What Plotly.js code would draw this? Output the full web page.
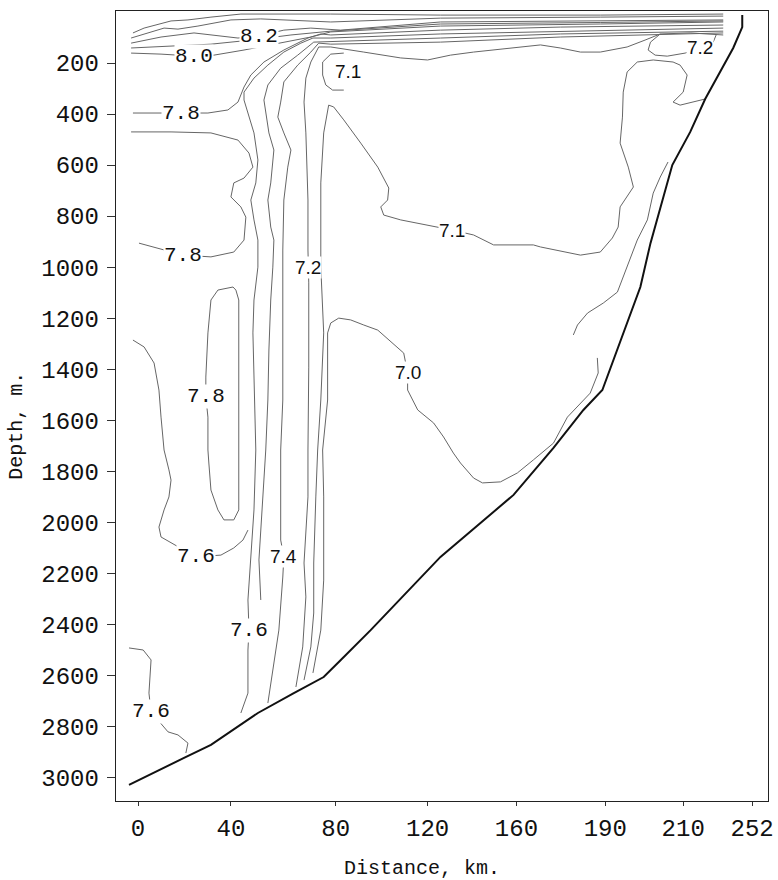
<!DOCTYPE html>
<html>
<head>
<meta charset="utf-8">
<script src="https://cdn.plot.ly/plotly-3.0.1.min.js"></script>
<style>
  html, body { margin: 0; padding: 0; background: #ffffff; }
  #chart { width: 778px; height: 880px; }
</style>
</head>
<body>
<div id="chart"></div>
<script>
// ---- Section data: distance along the section (km) and depth (m) ----
const distanceTicks = [0, 40, 80, 120, 160, 190, 210, 252];
const depthTicks = [200, 400, 600, 800, 1000, 1200, 1400, 1600, 1800, 2000, 2200, 2400, 2600, 2800, 3000];

// Seabed profile
const seabedKm    = [-3.9, 6.9, 19.8, 31.4, 50.3, 64.0, 75.4, 82.2, 95.2, 125.8, 158.7, 172.5, 182.6, 189.0, 194.6, 199.0, 201.6, 207.2, 214.3, 223.4, 240.5, 246.0, 246.0];
const seabedDepth = [3030, 2983, 2924, 2873, 2748, 2670, 2607, 2540, 2423, 2136, 1893, 1709, 1560, 1482, 1258, 1078, 906, 600, 470, 341, 141, 59, 12];

// Isolines near the surface
const iso86Km    = [-2.2, 2.6, 14.2, 21.5, 31.4, 43.8, 78.1, 125.8, 188.3, 234.4];
const iso86Depth = [82, 63, 35, 31, 20, 8, 8, 12, 12, 8];
const iso84Km    = [-3.0, 5.6, 11.2, 17.2, 25.8, 40.0, 51.4, 78.1, 125.8, 188.3, 234.4];
const iso84Depth = [102, 78, 63, 67, 55, 31, 27, 39, 24, 20, 16];
const iso82Km    = [-3.0, 9.9, 24.1, 42.7, 50.7, 60.2, 70.5, 76.9, 82.2, 125.8, 188.3, 234.4];
const iso82Depth = [122, 98, 82, 102, 94, 71, 63, 67, 71, 39, 35, 31];
const iso81Km    = [-3.0, 14.2, 31.4, 47.6, 62.9, 78.1, 125.8, 188.3, 234.4];
const iso81Depth = [141, 133, 126, 110, 90, 75, 47, 41, 35];
const iso80Km    = [-3.0, 9.9, 24.1, 32.7, 45.0, 57.9, 70.5, 78.1, 125.8, 188.3, 234.4];
const iso80Depth = [161, 165, 173, 169, 149, 122, 98, 78, 55, 47, 39];

// 7.8 isolines
const iso78aKm    = [-2.2, 8.6, 18.5, 30.1, 38.7, 42.7, 45.0, 47.6, 52.6, 60.2, 69.4, 74.3, 78.1, 125.8, 174.8, 234.4];
const iso78aDepth = [396, 396, 396, 396, 384, 353, 294, 247, 196, 149, 102, 86, 90, 71, 59, 51];
const iso78bKm    = [-3.0, 14.2, 31.4, 42.7, 46.9, 48.4, 45.0, 41.1, 40.0, 43.8, 45.7, 45.0, 41.1, 31.4, 19.4, 6.9, 0.4];
const iso78bDepth = [470, 470, 474, 502, 553, 608, 651, 670, 725, 764, 804, 894, 941, 960, 953, 921, 906];
const iso78cKm    = [40.8, 34.4, 31.4, 30.1, 29.2, 29.2, 30.1, 30.1, 30.5, 31.4, 34.4, 37.0, 41.1, 43.0, 43.0, 43.0, 43.0, 41.9, 40.8];
const iso78cDepth = [1078, 1090, 1129, 1258, 1431, 1509, 1588, 1717, 1768, 1874, 1952, 1991, 1991, 1952, 1717, 1325, 1129, 1090, 1078];

// 7.6 isolines
const iso76aKm    = [234.4, 174.8, 125.8, 78.1, 71.3, 66.7, 60.2, 54.1, 48.8, 45.0, 45.0, 48.8, 50.3, 49.5, 47.6, 48.8, 50.3, 50.3, 48.8, 48.4, 48.8, 49.5, 48.8, 47.6, 46.5, 46.9, 46.5, 46.5, 43.8];
const iso76aDepth = [63, 75, 86, 102, 102, 122, 157, 208, 259, 314, 345, 474, 580, 670, 737, 815, 894, 1000, 1129, 1258, 1454, 1717, 1952, 2148, 2305, 2423, 2501, 2670, 2748];
const iso76bKm    = [-2.2, 2.6, 6.9, 9.0, 9.9, 11.2, 13.3, 14.2, 13.3, 11.2, 9.0, 9.9, 24.9, 35.7, 41.1, 44.6, 46.5];
const iso76bDepth = [1286, 1313, 1376, 1482, 1588, 1717, 1795, 1835, 1901, 1952, 2019, 2058, 2136, 2129, 2101, 2070, 2031];
const iso76cKm    = [-3.9, 2.2, 5.6, 4.7, 5.6, 12.9, 17.2, 21.5, 20.6];
const iso76cDepth = [2493, 2501, 2540, 2670, 2744, 2822, 2834, 2866, 2905];

// 7.5 and 7.4 isolines
const iso75Km    = [234.4, 174.8, 125.8, 78.1, 71.6, 65.5, 59.0, 54.1, 52.6, 54.5, 56.4, 55.2, 54.1, 55.2, 56.4, 56.0, 55.2, 54.5, 54.1, 53.3, 52.6, 51.4, 50.7, 51.4];
const iso75Depth = [75, 86, 102, 114, 118, 169, 220, 286, 345, 474, 541, 670, 737, 843, 894, 1000, 1129, 1325, 1521, 1717, 1835, 1991, 2148, 2305];
const iso74Km    = [234.4, 174.8, 125.8, 78.1, 73.5, 70.5, 65.5, 60.2, 59.0, 57.9, 60.2, 62.9, 61.7, 60.2, 59.8, 59.8, 59.8, 59.0, 59.0, 59.0, 60.2, 59.8, 58.3, 56.4, 54.1];
const iso74Depth = [82, 98, 118, 126, 122, 157, 208, 274, 353, 412, 474, 541, 608, 737, 933, 1129, 1521, 1717, 1913, 2070, 2136, 2215, 2423, 2552, 2709];

// 7.2 isolines
const iso72aKm    = [64.8, 67.4, 68.6, 67.9, 69.4, 69.4, 69.7, 69.7, 69.4, 69.4, 68.6, 67.9, 68.6, 70.5, 73.5, 78.1, 92.2, 108.3, 120.0, 130.3, 140.7, 157.3, 168.1, 174.8, 181.6, 188.3, 195.6, 200.2, 204.1, 214.3, 234.4];
const iso72aDepth = [2646, 2489, 2293, 2160, 1901, 1717, 1392, 1062, 933, 737, 474, 353, 259, 196, 137, 137, 157, 180, 188, 169, 157, 141, 129, 141, 157, 157, 137, 110, 86, 82, 90];
const iso72bKm    = [204.1, 201.6, 201.0, 202.8, 205.9, 211.2, 220.4, 228.3, 230.1];
const iso72bDepth = [86, 118, 149, 169, 173, 161, 141, 118, 90];

// 7.1 isolines
const iso71aKm    = [67.9, 70.5, 71.6, 71.6, 72.4, 73.1, 74.3, 75.4, 74.3, 74.3, 75.4, 77.3, 79.2, 83.5, 90.9, 98.3, 103.1, 102.6, 99.6, 100.9, 108.3, 120.0, 131.2, 140.7, 149.7, 165.7, 168.1, 181.6, 188.3, 191.8, 193.3, 193.8, 197.2, 195.9, 193.8, 194.4, 194.6, 195.6, 198.2, 202.3, 207.4, 209.2, 212.4, 210.0, 207.4, 209.2, 223.4];
const iso71aDepth = [2619, 2489, 2356, 2160, 1901, 1717, 1521, 1258, 1000, 670, 474, 365, 372, 423, 514, 608, 690, 737, 764, 796, 815, 835, 855, 874, 913, 913, 921, 953, 941, 886, 843, 764, 686, 608, 514, 412, 314, 235, 196, 188, 196, 208, 247, 314, 353, 365, 341];
const iso71bKm    = [83.5, 78.1, 75.0, 75.0, 76.2, 78.8, 83.5];
const iso71bDepth = [161, 165, 196, 247, 286, 306, 306];

// 7.0 isolines
const iso70aKm    = [71.3, 74.3, 75.4, 75.4, 75.0, 76.9, 76.9, 78.1, 81.3, 86.5, 92.2, 98.3, 109.6, 111.3, 111.3, 115.7, 122.7, 127.2, 131.6, 134.8, 140.7, 144.7, 152.8, 160.3, 165.7, 172.5, 177.2, 184.9, 187.6, 187.3];
const iso70aDepth = [2591, 2423, 2227, 1901, 1717, 1521, 1258, 1219, 1200, 1207, 1227, 1247, 1337, 1415, 1482, 1560, 1611, 1666, 1729, 1768, 1827, 1846, 1842, 1807, 1756, 1690, 1588, 1494, 1415, 1356];
const iso70bKm    = [179.2, 180.6, 184.0, 189.3, 193.1, 195.6, 198.2, 200.8, 202.3, 204.1, 206.1];
const iso70bDepth = [1266, 1227, 1180, 1141, 1098, 1000, 894, 815, 710, 647, 588];

// Isoline labels: text, distance (km), depth (m), style
const labelText  = ["8.2", "8.0", "7.8", "7.8", "7.8", "7.6", "7.6", "7.6", "7.4", "7.2", "7.1", "7.1", "7.0", "7.2"];
const labelKm    = [50.7, 24.1, 18.5, 19.4, 29.2, 24.9, 46.9, 5.6, 60.2, 69.4, 85.2, 131.2, 111.3, 220.4];
const labelDepth = [94, 173, 396, 953, 1509, 2136, 2423, 2744, 2136, 1000, 235, 855, 1415, 141];
const labelMono  = [true, true, true, true, true, true, true, true, false, false, false, false, false, false];

// ---- Stretched distance scale: ticks are not evenly spaced in km ----
const tickStops = [0, 93, 198, 290, 379, 468, 546, 615];
function kmToPos(km) {
  const k = distanceTicks, p = tickStops;
  let i = 0;
  if (km >= k[k.length - 1]) i = k.length - 2;
  else if (km > k[0]) { while (km > k[i + 1]) i++; }
  return p[i] + (km - k[i]) * (p[i + 1] - p[i]) / (k[i + 1] - k[i]);
}

const isoStyle = { color: '#666666', width: 1 };
const isolines = [
  [iso86Km, iso86Depth], [iso84Km, iso84Depth], [iso82Km, iso82Depth],
  [iso81Km, iso81Depth], [iso80Km, iso80Depth],
  [iso78aKm, iso78aDepth], [iso78bKm, iso78bDepth], [iso78cKm, iso78cDepth],
  [iso76aKm, iso76aDepth], [iso76bKm, iso76bDepth], [iso76cKm, iso76cDepth],
  [iso75Km, iso75Depth], [iso74Km, iso74Depth],
  [iso72aKm, iso72aDepth], [iso72bKm, iso72bDepth],
  [iso71aKm, iso71aDepth], [iso71bKm, iso71bDepth],
  [iso70aKm, iso70aDepth], [iso70bKm, iso70bDepth]
];

const traces = isolines.map(([km, d]) => ({
  type: 'scatter', mode: 'lines',
  x: km.map(kmToPos), y: d,
  line: isoStyle, hoverinfo: 'skip', showlegend: false
}));

traces.push({
  type: 'scatter', mode: 'lines',
  x: seabedKm.map(kmToPos), y: seabedDepth,
  line: { color: '#111111', width: 2 },
  hoverinfo: 'skip', showlegend: false
});

const monoFont = { family: 'Liberation Mono, DejaVu Sans Mono, monospace', size: 21, color: '#111' };
const sansFont = { family: 'Liberation Sans Narrow, Liberation Sans, Arial, sans-serif', size: 19, color: '#111' };

const annotations = labelText.map((t, i) => ({
  text: t, xref: 'x', yref: 'y',
  x: kmToPos(labelKm[i]), y: labelDepth[i],
  showarrow: false, bgcolor: '#ffffff', borderpad: 0,
  font: labelMono[i] ? monoFont : sansFont
}));

const axisFont = { family: 'Liberation Mono, DejaVu Sans Mono, monospace', size: 24, color: '#111' };
const titleFont = { family: 'Liberation Mono, DejaVu Sans Mono, monospace', size: 20, color: '#111' };

annotations.push({
  text: 'Depth, m.', xref: 'paper', yref: 'paper', x: -0.152, y: 0.475,
  textangle: -90, showarrow: false, font: titleFont, xanchor: 'center', yanchor: 'middle'
});
annotations.push({
  text: 'Distance, km.', xref: 'paper', yref: 'paper', x: 0.469, y: -0.085,
  showarrow: false, font: titleFont, xanchor: 'center', yanchor: 'middle'
});

const layout = {
  width: 778, height: 880,
  margin: { l: 116, r: 10, t: 11, b: 79 },
  paper_bgcolor: '#ffffff', plot_bgcolor: '#ffffff',
  showlegend: false,
  xaxis: {
    range: [kmToPos(-9.5), kmToPos(261.7)],
    tickvals: distanceTicks.map(kmToPos), ticktext: distanceTicks.map(String),
    ticks: 'outside', ticklen: 4, tickwidth: 1, tickcolor: '#333',
    showline: true, mirror: true, linecolor: '#222', linewidth: 1.3,
    showgrid: false, zeroline: false, tickfont: axisFont, ticklabelstandoff: 1
  },
  yaxis: {
    range: [3093, -4],
    tickvals: depthTicks, ticktext: depthTicks.map(String),
    ticks: 'outside', ticklen: 8, tickwidth: 1, tickcolor: '#333',
    showline: true, mirror: true, linecolor: '#222', linewidth: 1.3,
    showgrid: false, zeroline: false, tickfont: axisFont, ticklabelstandoff: 3
  },
  annotations: annotations
};

Plotly.newPlot('chart', traces, layout, { staticPlot: true, displayModeBar: false });
</script>
</body>
</html>
